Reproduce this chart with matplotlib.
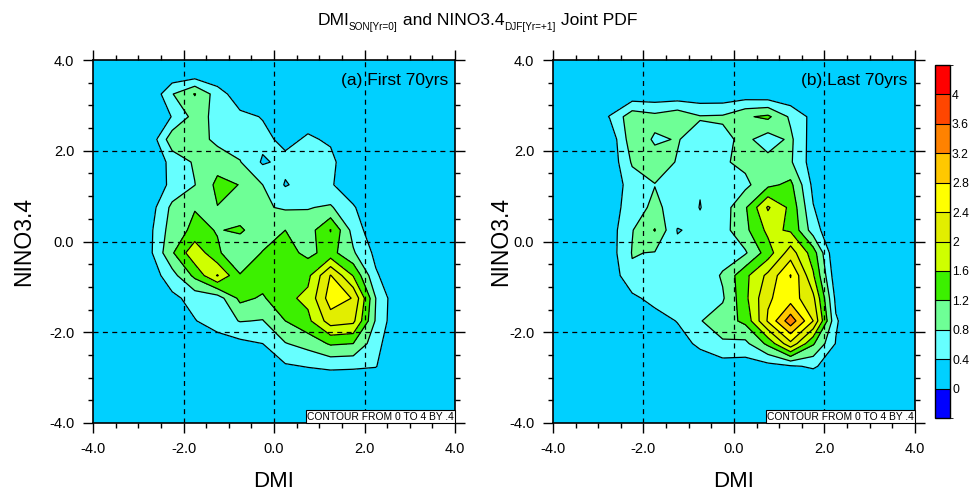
import numpy as np
import matplotlib
matplotlib.use("Agg")
import matplotlib.pyplot as plt
from matplotlib.colors import ListedColormap, BoundaryNorm
import matplotlib.colorbar as mcolorbar
from matplotlib.ticker import MultipleLocator

plt.rcParams['font.family'] = ['Liberation Sans', 'DejaVu Sans']

# ---------------- data ----------------
dmi_bins = [-3.75, -3.25, -2.75, -2.25, -1.75, -1.25, -0.75, -0.25,
            0.25, 0.75, 1.25, 1.75, 2.25, 2.75, 3.25, 3.75]
nino_bins = [3.75, 3.25, 2.75, 2.25, 1.75, 1.25, 0.75, 0.25,
             -0.25, -0.75, -1.25, -1.75, -2.25, -2.75, -3.25, -3.75]

# joint PDF, rows = NINO3.4 bins (top to bottom), cols = DMI bins (left to right)
pdf_first = [
    [0, 0, 0, 0,    0,    0,    0,    0,    0,    0,    0,    0,    0,    0, 0, 0],
    [0, 0, 0, 0.78, 1.22, 0.6,  0.15, 0,    0,    0,    0,    0,    0,    0, 0, 0],
    [0, 0, 0, 0.42, 0.95, 0.7,  0.5,  0.38, 0.2,  0.25, 0.1,  0,    0,    0, 0, 0],
    [0, 0, 0.1, 1.05, 1.0, 0.69, 0.6, 0.5,  0.3,  0.45, 0.35, 0.1,  0,    0, 0, 0],
    [0, 0, 0, 0.55, 0.85, 1.05, 0.82, 0.35, 0.5,  0.5,  0.5,  0.1,  0,    0, 0, 0],
    [0, 0, 0.1, 0.5, 0.79, 1.3, 1.19, 0.8,  0.37, 0.55, 0.45, 0.1,  0,    0, 0, 0],
    [0, 0, 0.2, 0.9, 1.18, 1.19, 1.0, 0.85, 0.75, 0.78, 0.85, 0.45, 0,    0, 0, 0],
    [0, 0, 0.3, 1.0, 1.3,  1.18, 1.25, 1.0, 1.2,  1.0,  1.62, 0.65, 0.1,  0, 0, 0],
    [0, 0, 0.3, 1.15, 1.9, 1.25, 0.95, 1.22, 1.35, 1.1, 1.35, 0.85, 0.3,  0, 0, 0],
    [0, 0, 0.15, 0.65, 1.3, 2.03, 1.22, 1.4, 1.45, 1.5, 2.42, 1.58, 0.45, 0.1, 0, 0],
    [0, 0, 0, 0.3, 0.55, 0.6,  1.3,  1.15, 1.5,  1.7,  2.6,  2.38, 0.8,  0.05, 0, 0],
    [0, 0, 0, 0,   0.38, 0.6,  0.82, 0.78, 1.2,  1.5,  2.2,  2.1,  0.75, 0.05, 0, 0],
    [0, 0, 0, 0,   0,    0.2,  0.3,  0.4,  0.78, 0.95, 1.25, 1.2,  0.55, 0, 0, 0],
    [0, 0, 0, 0,   0,    0,    0,    0.1,  0.35, 0.42, 0.48, 0.46, 0.42, 0, 0, 0],
    [0, 0, 0, 0,   0,    0,    0,    0,    0,    0,    0,    0,    0,    0, 0, 0],
    [0, 0, 0, 0,   0,    0,    0,    0,    0,    0,    0,    0,    0,    0, 0, 0],
]

pdf_last = [
    [0, 0, 0,    0,    0,    0,    0,    0,    0,    0,    0,    0,    0,    0, 0, 0],
    [0, 0, 0,    0.1,  0.1,  0.1,  0.1,  0.1,  0.15, 0.1,  0.05, 0,    0,    0, 0, 0],
    [0, 0, 0.42, 1.05, 0.92, 1.09, 0.83, 0.85, 1.15, 1.28, 0.73, 0.27, 0,    0, 0, 0],
    [0, 0, 0.1,  1.05, 0.75, 0.82, 0.65, 0.7,  0.9,  0.6,  0.88, 0.2,  0,    0, 0, 0],
    [0, 0, 0.1,  0.85, 0.95, 0.78, 0.6,  0.75, 0.9,  0.94, 0.85, 0.2,  0,    0, 0, 0],
    [0, 0, 0.1,  0.6,  0.79, 0.6,  0.42, 0.55, 0.7,  1.1,  1.3,  0.3,  0,    0, 0, 0],
    [0, 0, 0.2,  0.6,  0.9,  0.6,  0.39, 0.6,  1.15, 2.05, 1.5,  0.42, 0,    0, 0, 0],
    [0, 0, 0.2,  0.78, 1.22, 0.38, 0.48, 0.65, 1.1,  1.7,  1.55, 0.6,  0,    0, 0, 0],
    [0, 0, 0.2,  0.82, 0.78, 0.5,  0.5,  0.6,  0.75, 1.4,  2.2,  1.4,  0,    0, 0, 0],
    [0, 0, 0.1,  0.74, 0.6,  0.55, 0.5,  0.85, 1.5,  2.1,  2.82, 1.65, 0.13, 0, 0, 0],
    [0, 0, 0,    0.3,  0.55, 0.55, 0.55, 0.75, 1.5,  2.35, 2.6,  2.1,  0.3,  0, 0, 0],
    [0, 0, 0,    0,    0.2,  0.42, 0.78, 1.0,  1.3,  2.45, 3.45, 2.4,  0.45, 0, 0, 0],
    [0, 0, 0,    0,    0,    0.2,  0.5,  0.75, 0.7,  1.3,  2.3,  1.25, 0.38, 0, 0, 0],
    [0, 0, 0,    0,    0,    0,    0.1,  0.2,  0.2,  0.25, 0.35, 0.45, 0.2,  0, 0, 0],
    [0, 0, 0,    0,    0,    0,    0,    0,    0,    0,    0,    0,    0,    0, 0, 0],
    [0, 0, 0,    0,    0,    0,    0,    0,    0,    0,    0,    0,    0,    0, 0, 0],
]

levels = [0.0, 0.4, 0.8, 1.2, 1.6, 2.0, 2.4, 2.8, 3.2, 3.6, 4.0]
cbar_labels = ["0", "0.4", "0.8", "1.2", "1.6", "2", "2.4", "2.8", "3.2", "3.6", "4"]
band_colors = ["#0000FF", "#00D0FF", "#66FFFF", "#6EFF96", "#3CF000", "#CFFF00",
               "#E2EE00", "#FFFF00", "#FFC800", "#FF8200", "#FF4600", "#FF0000"]
panel_titles = ["(a) First 70yrs", "(b) Last 70yrs"]
axis_ticks = [-4, -2, 0, 2, 4]
axis_ticklabels = ["-4.0", "-2.0", "0.0", "2.0", "4.0"]
grid_vals = [-2, 0, 2]
title_pieces = [("DMI", False), ("SON[Yr=0]", True), (" and NINO3.4", False),
                ("DJF[Yr=+1]", True), (" Joint PDF", False)]

# ---------------- figure ----------------
fig = plt.figure(figsize=(9.7, 4.92), dpi=100)
positions = [[93/970, 1-423/492, 362/970, 363/492],
             [553/970, 1-423/492, 362/970, 363/492]]
ylabel_pads = [10, -2]

for pos, Z, ttl, ypad in zip(positions, [pdf_first, pdf_last], panel_titles, ylabel_pads):
    ax = fig.add_axes(pos)
    ax.set_facecolor(band_colors[1])
    Zarr = np.array(Z, dtype=float)
    ax.contourf(dmi_bins, nino_bins, Zarr, levels=levels,
                colors=band_colors[1:-1], zorder=1)
    ax.contour(dmi_bins, nino_bins, Zarr, levels=levels[1:],
               colors='black', linewidths=0.9, zorder=2)
    for g in grid_vals:
        ax.axvline(g, color='black', lw=0.9, ls=(0, (4, 3.5)), zorder=3)
        ax.axhline(g, color='black', lw=0.9, ls=(0, (4, 3.5)), zorder=3)
    ax.set_xlim(-4, 4)
    ax.set_ylim(-4, 4)
    ax.set_xticks(axis_ticks)
    ax.set_xticklabels(axis_ticklabels)
    ax.set_yticks(axis_ticks)
    ax.set_yticklabels(axis_ticklabels)
    ax.xaxis.set_minor_locator(MultipleLocator(0.5))
    ax.yaxis.set_minor_locator(MultipleLocator(0.5))
    ax.tick_params(which='both', direction='out', top=True, right=True,
                   labeltop=False, labelright=False, width=1.0, colors='black')
    ax.tick_params(which='major', length=7, labelsize=10.5, pad=6.5)
    ax.tick_params(which='minor', length=3.5)
    for sp in ax.spines.values():
        sp.set_linewidth(1.2)
    ax.set_xlabel("DMI", fontsize=16, labelpad=11)
    ax.set_ylabel("NINO3.4", fontsize=16.5, labelpad=ypad)
    ax.text(0.98, 0.965, ttl, transform=ax.transAxes, ha='right', va='top',
            fontsize=12.5, zorder=5)
    ax.text(0.997, 0.004, "CONTOUR FROM 0 TO 4 BY .4", transform=ax.transAxes,
            ha='right', va='bottom', fontsize=7.4, zorder=6,
            bbox=dict(facecolor='white', edgecolor='black', linewidth=0.8,
                      boxstyle='square,pad=0.15'))

# colorbar
cax = fig.add_axes([935/970, 1-418/492, 15/970, 353/492])
bounds = [-0.4] + levels + [4.4]
cmap = ListedColormap(band_colors)
norm = BoundaryNorm(bounds, cmap.N)
cb = mcolorbar.ColorbarBase(cax, cmap=cmap, norm=norm, boundaries=bounds,
                            ticks=levels, drawedges=True, orientation='vertical')
cb.set_ticklabels(cbar_labels)
cb.outline.set_linewidth(1.0)
cb.dividers.set_linewidth(0.8)
cax.tick_params(length=0, labelsize=8.8, pad=1.5)

# title with subscripts, drawn piecewise
renderer = fig.canvas.get_renderer()
W, H = fig.bbox.width, fig.bbox.height
main_size, sub_size = 12.6, 7.2
widths = []
for txt, is_sub in title_pieces:
    t = fig.text(0, 0, txt, fontsize=sub_size if is_sub else main_size)
    widths.append(t.get_window_extent(renderer).width)
    t.remove()
x_px = 0.492 * W - sum(widths) / 2
base_y = 1 - 25 / 492
for (txt, is_sub), w in zip(title_pieces, widths):
    fig.text(x_px / W, base_y - (5 / H if is_sub else 0), txt,
             fontsize=sub_size if is_sub else main_size,
             ha='left', va='baseline')
    x_px += w

fig.savefig("out.png", dpi=100)
